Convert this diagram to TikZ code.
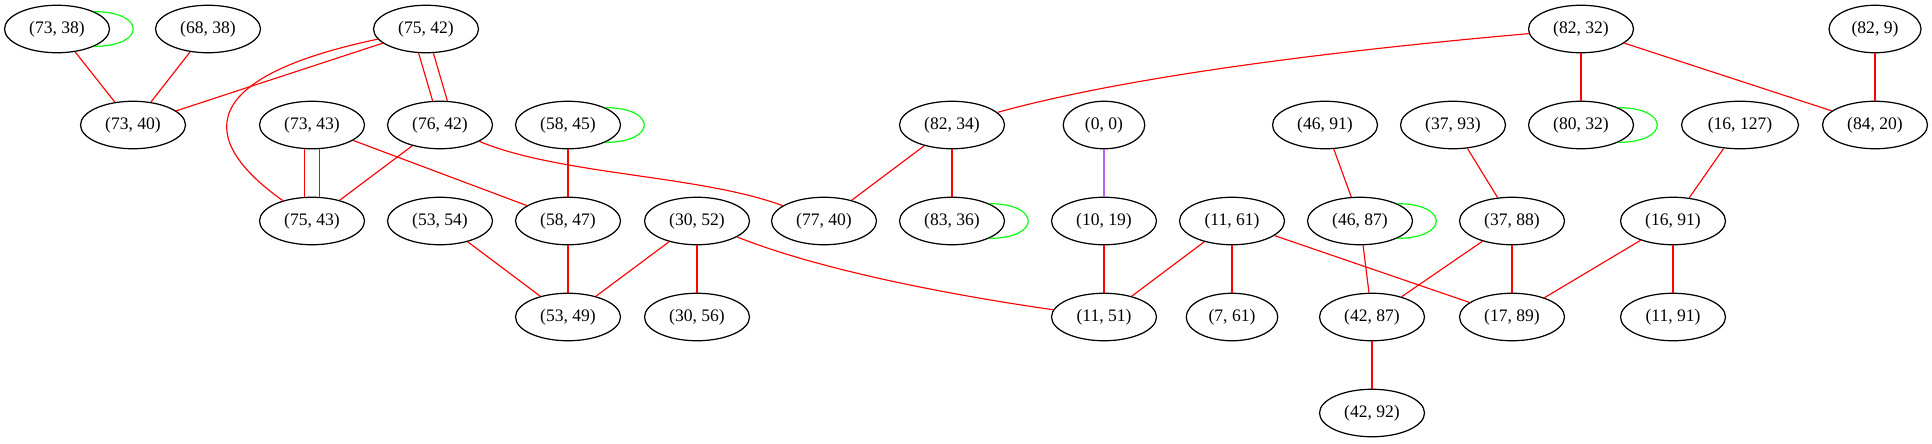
\documentclass[tikz,border=0pt]{standalone}
\usepackage{fontspec}
\setmainfont{Liberation Serif}
\usetikzlibrary{shapes.geometric}

\definecolor{loopgreen}{RGB}{0,255,0}
\definecolor{linkpurple}{RGB}{180,100,240}

\begin{document}
\begin{tikzpicture}[
  x=0.02cm, y=-0.02cm,
  font=\fontsize{10}{12}\selectfont,
  vtx/.style={draw, ellipse, line width=0.7pt, inner sep=0pt,
    minimum width=2.1cm, minimum height=0.95cm},
  link/.style={draw=red, line width=0.65pt},
  selfloop/.style={draw=loopgreen, line width=0.65pt}
]
  \useasboundingbox (0,0) rectangle (1932,443);

  % Row 1
  \node[vtx] (n7338) at (57,29) {(73, 38)};
  \node[vtx] (n6838) at (208,29) {(68, 38)};
  \node[vtx] (n7542) at (426,29) {(75, 42)};
  \node[vtx] (n8232) at (1581,29) {(82, 32)};
  \node[vtx, minimum width=1.84cm] (n829) at (1875,29) {(82, 9)};

  % Row 2
  \node[vtx] (n7340) at (133,125) {(73, 40)};
  \node[vtx] (n7343) at (312,125) {(73, 43)};
  \node[vtx] (n7642) at (440,125) {(76, 42)};
  \node[vtx] (n5845) at (568,125) {(58, 45)};
  \node[vtx] (n8234) at (952,125) {(82, 34)};
  \node[vtx, minimum width=1.63cm] (n00) at (1104,125) {(0, 0)};
  \node[vtx] (n4691) at (1325,125) {(46, 91)};
  \node[vtx] (n3793) at (1453,125) {(37, 93)};
  \node[vtx] (n8032) at (1581,125) {(80, 32)};
  \node[vtx, minimum width=2.34cm] (n16127) at (1740,125) {(16, 127)};
  \node[vtx] (n8420) at (1875,125) {(84, 20)};

  % Row 3
  \node[vtx] (n7543) at (312,221) {(75, 43)};
  \node[vtx] (n5354) at (440,221) {(53, 54)};
  \node[vtx] (n5847) at (568,221) {(58, 47)};
  \node[vtx] (n3052) at (697,221) {(30, 52)};
  \node[vtx] (n7740) at (824,221) {(77, 40)};
  \node[vtx] (n8336) at (952,221) {(83, 36)};
  \node[vtx] (n1019) at (1104,221) {(10, 19)};
  \node[vtx] (n1161) at (1232,221) {(11, 61)};
  \node[vtx] (n4687) at (1360,221) {(46, 87)};
  \node[vtx] (n3788) at (1512,221) {(37, 88)};
  \node[vtx] (n1691) at (1673,221) {(16, 91)};

  % Row 4 and 5
  \node[vtx] (n5349) at (568,317) {(53, 49)};
  \node[vtx] (n3056) at (697,317) {(30, 56)};
  \node[vtx] (n1151) at (1104,317) {(11, 51)};
  \node[vtx, minimum width=1.83cm] (n761) at (1232,317) {(7, 61)};
  \node[vtx] (n4287) at (1372,317) {(42, 87)};
  \node[vtx] (n1789) at (1512,317) {(17, 89)};
  \node[vtx] (n1191) at (1673,317) {(11, 91)};
  \node[vtx] (n4292) at (1372,413) {(42, 92)};

  % left cluster
  \draw[link] (n7338) -- (n7340);
  \draw[link] (n6838) -- (n7340);
  \draw[link] (n7542) -- (n7340);
  \draw[link] (n7542) .. controls (160,85) and (225,160) .. (n7543);
  \draw[link] (n7542.253) -- (n7642.107);
  \draw[link] (n7542.287) -- (n7642.73);
  \draw[link] (n7343.253) -- (n7543.107);
  \draw[link] (n7343.287) -- (n7543.73);
  \draw[link] (n7343) -- (n5847);
  \draw[link] (n7642) -- (n7543);
  \draw[link] (n7642) .. controls (560,175) and (700,175) .. (n7740);
  \draw[link] (n5845) -- (n5847);
  \draw[link] (n5354) -- (n5349);
  \draw[link] (n5847) -- (n5349);
  \draw[link] (n3052) -- (n5349);
  \draw[link] (n3052) -- (n3056);
  \draw[link] (n3052) .. controls (820,270) and (950,295) .. (n1151);

  % middle
  \draw[link] (n8232) .. controls (1400,45) and (1150,70) .. (n8234);
  \draw[link] (n8234) -- (n7740);
  \draw[link] (n8234) -- (n8336);
  \draw[draw=linkpurple, line width=0.65pt] (n00) -- (n1019);
  \draw[link] (n1019) -- (n1151);
  \draw[link] (n1161) -- (n1151);
  \draw[link] (n1161) -- (n761);
  \draw[link] (n1161) -- (n1789);

  % right cluster
  \draw[link] (n8232) -- (n8032);
  \draw[link] (n8232) -- (n8420);
  \draw[link] (n829) -- (n8420);
  \draw[link] (n4691) -- (n4687);
  \draw[link] (n4687) -- (n4287);
  \draw[link] (n3793) -- (n3788);
  \draw[link] (n3788) -- (n4287);
  \draw[link] (n3788) -- (n1789);
  \draw[link] (n16127) -- (n1691);
  \draw[link] (n1691) -- (n1789);
  \draw[link] (n1691) -- (n1191);
  \draw[link] (n4287) -- (n4292);

  % self loops
  \foreach \n in {n7338,n5845,n8336,n8032,n4687}
    \draw[selfloop] (\n.25) .. controls +(52,0) and +(52,0) .. (\n.-25);
\end{tikzpicture}
\end{document}
